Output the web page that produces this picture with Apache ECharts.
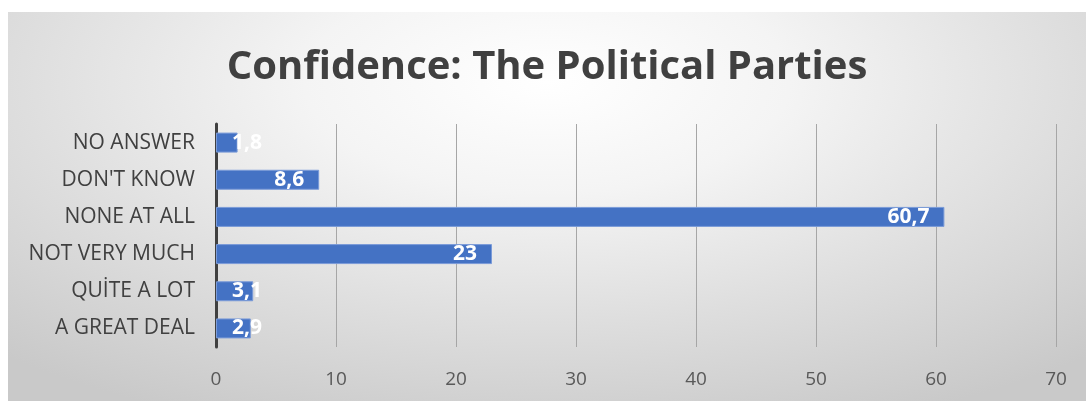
<!DOCTYPE html>
<html><head><meta charset="utf-8">
<script src="https://cdn.jsdelivr.net/npm/echarts@6/dist/echarts.min.js"></script>
<style>
html,body{margin:0;padding:0;background:#fff;width:1086px;height:401px;overflow:hidden;}
#c{position:absolute;left:8px;top:12px;width:1078px;height:389px;
background:radial-gradient(ellipse 75% 95% at 50% 18%, #ffffff 0%, #f4f4f4 30%, #dedede 65%, #c9c9c9 100%);}
</style></head>
<body><div id="c"></div>
<script>
const titleText = "Confidence: The Political Parties";
const categories = ["NO ANSWER", "DON'T KNOW", "NONE AT ALL", "NOT VERY MUCH", "QUİTE A LOT", "A GREAT DEAL"];
const values = [1.8, 8.6, 60.7, 23, 3.1, 2.9];
const xTicks = [0, 10, 20, 30, 40, 50, 60, 70];

const font = "'Open Sans', 'Noto Sans', sans-serif";
const chart = echarts.init(document.getElementById('c'), null, {renderer:'canvas'});
const data = values.map(v => ({
  value: v,
  label: v < 5 ? {position:'insideLeft', distance: 16} : {position:'insideRight', distance: 15}
}));
chart.setOption({
  animation:false,
  title:{text:titleText, left:'center', top:31,
    textStyle:{fontFamily:font, fontSize:40, fontWeight:'bold', color:'#404040'}},
  grid:{left:208, top:112, right:30, bottom:54, containLabel:false},
  xAxis:{type:'value', min:xTicks[0], max:xTicks[xTicks.length-1], interval:10,
    axisLine:{show:false}, axisTick:{show:false},
    axisLabel:{fontFamily:font, fontSize:19, color:'#595959', margin:23},
    splitLine:{show:true, lineStyle:{color:'#a6a6a6', width:1}}},
  yAxis:{type:'category', data:categories, inverse:true,
    axisLine:{show:true, lineStyle:{color:'#404040', width:3}},
    axisTick:{show:false},
    axisLabel:{fontFamily:font, fontSize:21, color:'#404040', margin:21},
    splitLine:{show:false}},
  series:[{type:'bar', data:data, barWidth:20,
    itemStyle:{color:'#4472c4', borderColor:'#7b9bd8', borderWidth:1},
    label:{show:true, color:'#ffffff', fontFamily:font, fontSize:21, fontWeight:'bold',
      formatter: p => String(p.value).replace('.', ',')}}]
});
</script></body></html>
